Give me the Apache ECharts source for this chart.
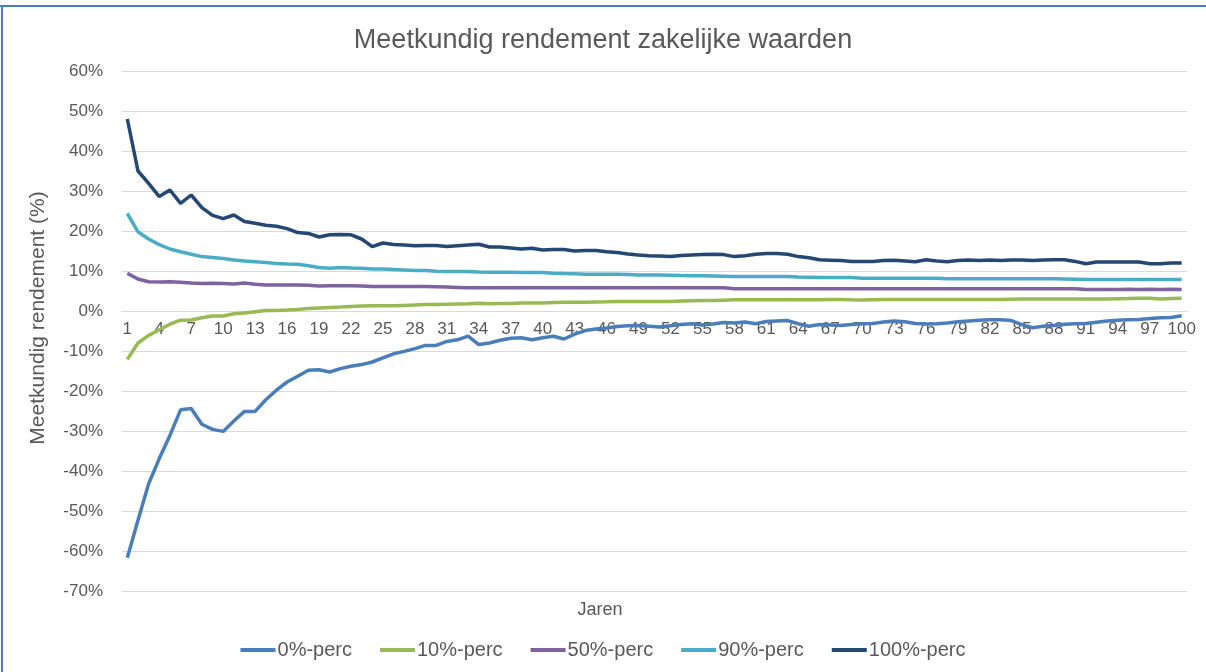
<!DOCTYPE html>
<html>
<head>
<meta charset="utf-8">
<script src="https://cdn.jsdelivr.net/npm/echarts@6/dist/echarts.min.js"></script>
<style>
html,body{margin:0;padding:0;background:#fff;}
#chart{width:1206px;height:672px;}
</style>
</head>
<body>
<div id="chart"></div>
<script>
const years = Array.from({length: 100}, (_, i) => String(i + 1));
const yTicks = [-70, 60, 10];
const seriesNames = ['0%-perc', '10%-perc', '50%-perc', '90%-perc', '100%-perc'];

const p0 = [
  -61.7, -52.3, -43.2, -36.9, -31.1, -24.7, -24.4, -28.3, -29.6, -30.1,
  -27.5, -25.1, -25.1, -22.2, -19.8, -17.75, -16.3, -14.8, -14.7, -15.25,
  -14.4, -13.8, -13.4, -12.75, -11.7, -10.7, -10.1, -9.4, -8.6, -8.6,
  -7.6, -7.2, -6.3, -8.4, -8.0, -7.3, -6.8, -6.7, -7.2, -6.7,
  -6.3, -7.0, -5.8, -4.9, -4.5, -4.25, -3.9, -3.7, -3.6, -3.8,
  -4.0, -3.7, -3.4, -3.2, -3.5, -3.25, -2.9, -3.0, -2.75, -3.2,
  -2.6, -2.5, -2.4, -3.2, -3.8, -3.4, -3.5, -3.6, -3.4, -3.2,
  -3.1, -2.75, -2.5, -2.7, -3.1, -3.25, -3.2, -3.0, -2.7, -2.5,
  -2.3, -2.2, -2.2, -2.4, -3.4, -4.2, -3.8, -3.6, -3.3, -3.2,
  -3.1, -2.8, -2.5, -2.3, -2.2, -2.1, -1.9, -1.7, -1.6, -1.2
];
const p10 = [
  -12.1, -8.0, -6.1, -4.7, -3.3, -2.3, -2.25, -1.7, -1.25, -1.25,
  -0.7, -0.5, -0.2, 0.1, 0.15, 0.25, 0.4, 0.6, 0.75, 0.9,
  1.0, 1.15, 1.25, 1.3, 1.3, 1.3, 1.4, 1.5, 1.6, 1.65,
  1.7, 1.75, 1.8, 1.95, 1.8, 1.85, 1.9, 2.0, 2.0, 2.0,
  2.1, 2.2, 2.2, 2.2, 2.25, 2.3, 2.4, 2.4, 2.4, 2.4,
  2.4, 2.4, 2.5, 2.55, 2.6, 2.6, 2.7, 2.8, 2.8, 2.8,
  2.8, 2.8, 2.8, 2.8, 2.8, 2.8, 2.85, 2.9, 2.8, 2.75,
  2.8, 2.85, 2.9, 2.9, 2.9, 2.9, 2.9, 2.9, 2.9, 2.9,
  2.9, 2.9, 2.9, 2.95, 3.0, 3.0, 3.0, 3.0, 3.0, 3.0,
  3.0, 3.0, 3.0, 3.05, 3.1, 3.2, 3.2, 3.0, 3.1, 3.2
];
const p50 = [
  9.4, 8.0, 7.3, 7.25, 7.3, 7.2, 7.0, 6.9, 6.95, 6.9,
  6.75, 7.0, 6.7, 6.5, 6.5, 6.5, 6.5, 6.45, 6.25, 6.3,
  6.3, 6.3, 6.25, 6.1, 6.1, 6.1, 6.1, 6.1, 6.1, 6.05,
  6.0, 5.9, 5.8, 5.8, 5.8, 5.8, 5.8, 5.8, 5.8, 5.8,
  5.8, 5.8, 5.8, 5.8, 5.8, 5.8, 5.8, 5.8, 5.8, 5.8,
  5.8, 5.8, 5.8, 5.8, 5.8, 5.8, 5.8, 5.55, 5.55, 5.55,
  5.55, 5.55, 5.55, 5.55, 5.55, 5.55, 5.55, 5.55, 5.55, 5.55,
  5.55, 5.55, 5.55, 5.55, 5.55, 5.55, 5.55, 5.55, 5.55, 5.55,
  5.55, 5.55, 5.55, 5.55, 5.55, 5.55, 5.55, 5.55, 5.55, 5.55,
  5.4, 5.35, 5.35, 5.4, 5.45, 5.35, 5.45, 5.35, 5.45, 5.35
];
const p90 = [
  24.4, 19.8, 18.0, 16.6, 15.5, 14.8, 14.2, 13.6, 13.4, 13.1,
  12.75, 12.5, 12.3, 12.1, 11.9, 11.75, 11.7, 11.3, 10.9, 10.7,
  10.85, 10.75, 10.7, 10.5, 10.5, 10.4, 10.25, 10.1, 10.1, 9.95,
  9.9, 9.9, 9.85, 9.75, 9.7, 9.7, 9.7, 9.65, 9.6, 9.6,
  9.45, 9.35, 9.3, 9.2, 9.2, 9.2, 9.2, 9.1, 9.0, 9.0,
  9.0, 8.95, 8.85, 8.8, 8.8, 8.75, 8.7, 8.6, 8.6, 8.6,
  8.6, 8.6, 8.6, 8.5, 8.45, 8.4, 8.4, 8.4, 8.35, 8.2,
  8.2, 8.2, 8.2, 8.2, 8.2, 8.2, 8.2, 8.05, 8.05, 8.05,
  8.05, 8.05, 8.05, 8.05, 8.05, 8.05, 8.05, 8.05, 8.0, 7.95,
  7.85, 7.85, 7.85, 7.85, 7.85, 7.85, 7.85, 7.85, 7.85, 7.85
];
const p100 = [
  48.0, 35.0, 31.9, 28.6, 30.25, 26.9, 29.0, 25.85, 23.9, 23.1,
  24.0, 22.4, 21.95, 21.45, 21.2, 20.6, 19.6, 19.4, 18.5, 19.05,
  19.1, 19.05, 18.0, 16.1, 17.0, 16.6, 16.5, 16.3, 16.4, 16.4,
  16.1, 16.3, 16.5, 16.7, 16.0, 16.0, 15.75, 15.5, 15.7, 15.25,
  15.4, 15.4, 15.0, 15.1, 15.1, 14.8, 14.6, 14.25, 14.0, 13.8,
  13.75, 13.6, 13.9, 14.0, 14.1, 14.2, 14.1, 13.6, 13.8, 14.2,
  14.4, 14.4, 14.2, 13.6, 13.3, 12.8, 12.7, 12.6, 12.4, 12.4,
  12.4, 12.6, 12.7, 12.5, 12.3, 12.8, 12.5, 12.3, 12.6, 12.75,
  12.6, 12.75, 12.6, 12.75, 12.75, 12.6, 12.75, 12.8, 12.8, 12.4,
  11.8, 12.25, 12.25, 12.25, 12.25, 12.25, 11.8, 11.8, 12.0, 12.0
];

const colors = ['#4A7EBB', '#98B954', '#7F63A1', '#4BACC6', '#254774'];
const FONT = '"Liberation Sans", Arial, sans-serif';
const TXT = '#595959';

const chart = echarts.init(document.getElementById('chart'), null, {renderer: 'canvas'});
const dataSets = [p0, p10, p50, p90, p100];

chart.setOption({
  animation: false,
  color: colors,
  title: {
    text: 'Meetkundig rendement zakelijke waarden',
    left: 'center',
    top: 22,
    textStyle: {fontFamily: FONT, fontSize: 27, fontWeight: 'normal', color: TXT}
  },
  legend: {
    data: seriesNames,
    bottom: 7,
    left: 'center',
    itemWidth: 35,
    itemHeight: 4,
    itemGap: 28,
    icon: 'rect',
    textStyle: {fontFamily: FONT, fontSize: 20, color: TXT, padding: [0, 0, 0, -3]}
  },
  grid: {left: 122, right: 19, top: 71, bottom: 81, containLabel: false},
  xAxis: {
    type: 'category',
    data: years,
    boundaryGap: true,
    offset: -280,
    axisLine: {show: true, onZero: false, lineStyle: {color: '#d9d9d9', width: 1}},
    axisTick: {show: false},
    axisLabel: {interval: 2, fontFamily: FONT, fontSize: 17, color: TXT, margin: 10}
  },
  yAxis: {
    type: 'value',
    min: yTicks[0],
    max: yTicks[1],
    interval: yTicks[2],
    axisLine: {show: false},
    axisTick: {show: false},
    splitLine: {lineStyle: {color: '#d9d9d9', width: 1}},
    axisLabel: {formatter: '{value}%', fontFamily: FONT, fontSize: 17, color: TXT, margin: 19}
  },
  graphic: [
    {type: 'text', x: 38, y: 318, rotation: Math.PI / 2,
     style: {text: 'Meetkundig rendement (%)', font: '21px ' + FONT, fill: TXT, textAlign: 'center', textVerticalAlign: 'middle'}},
    {type: 'text', x: 600, y: 610,
     style: {text: 'Jaren', font: '18px ' + FONT, fill: TXT, textAlign: 'center', textVerticalAlign: 'middle'}},
    {type: 'rect', left: 0, top: 5, shape: {width: 1206, height: 2}, style: {fill: '#4A7EBB'}},
    {type: 'rect', left: 1, top: 5, shape: {width: 2, height: 667}, style: {fill: '#4A7EBB'}}
  ],
  series: seriesNames.map((n, i) => ({
    name: n,
    type: 'line',
    data: dataSets[i],
    symbol: 'none',
    lineStyle: {width: 3.5, color: colors[i]},
    itemStyle: {color: colors[i]}
  }))
});
</script>
</body>
</html>
